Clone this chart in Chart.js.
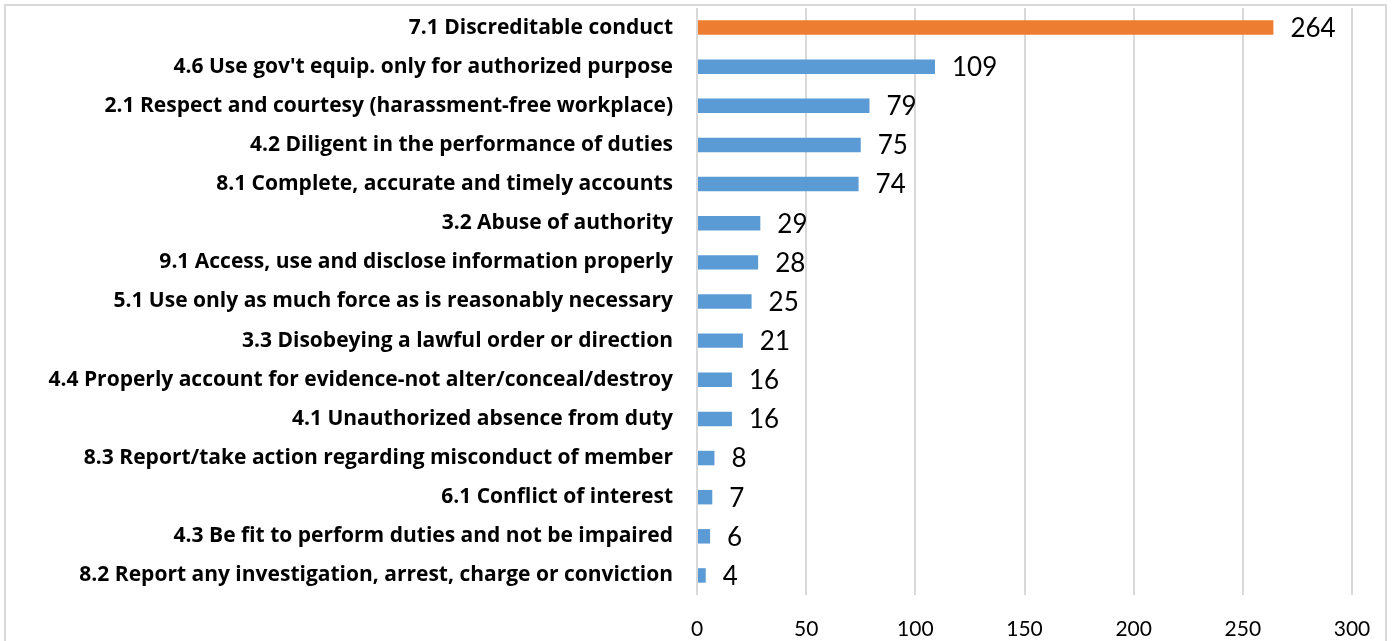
<!DOCTYPE html>
<html>
<head>
<meta charset="utf-8">
<script src="https://cdn.jsdelivr.net/npm/chart.js@4/dist/chart.umd.min.js"></script>
<style>
  html, body { margin: 0; padding: 0; background: #ffffff; overflow: hidden; }
  #wrap { position: absolute; left: 0; top: 0; width: 1393px; height: 641px; }
</style>
</head>
<body>
<div id="wrap"><canvas id="chart" width="1393" height="641"></canvas></div>
<script>
// Code of conduct sections and the number of allegations for each
const categories = [
  "7.1 Discreditable conduct",
  "4.6 Use gov't equip. only for authorized purpose",
  "2.1 Respect and courtesy (harassment-free workplace)",
  "4.2 Diligent in the performance of duties",
  "8.1 Complete, accurate and timely accounts",
  "3.2 Abuse of authority",
  "9.1 Access, use and disclose information properly",
  "5.1 Use only as much force as is reasonably necessary",
  "3.3 Disobeying a lawful order or direction",
  "4.4 Properly account for evidence-not alter/conceal/destroy",
  "4.1 Unauthorized absence from duty",
  "8.3 Report/take action regarding misconduct of member",
  "6.1 Conflict of interest",
  "4.3 Be fit to perform duties and not be impaired",
  "8.2 Report any investigation, arrest, charge or conviction"
];
const counts = [264, 109, 79, 75, 74, 29, 28, 25, 21, 16, 16, 8, 7, 6, 4];
const xTicks = [0, 50, 100, 150, 200, 250, 300];

const BLUE = '#5B9BD5';
const ORANGE = '#ED7D31';
const barColors = counts.map((v, i) => i === 0 ? ORANGE : BLUE);

// Light frame around the whole chart
const framePlugin = {
  id: 'frame',
  beforeDraw(chart) {
    const ctx = chart.ctx;
    ctx.save();
    ctx.strokeStyle = '#d9d9d9';
    ctx.lineWidth = 2;
    ctx.strokeRect(5, 5, 1381, 700);
    ctx.restore();
  }
};

// Value labels to the right of each bar
const valueLabels = {
  id: 'valueLabels',
  afterDatasetsDraw(chart) {
    const ctx = chart.ctx;
    const meta = chart.getDatasetMeta(0);
    ctx.save();
    ctx.font = '26px Lato';
    ctx.fillStyle = '#000000';
    ctx.textAlign = 'left';
    ctx.textBaseline = 'middle';
    meta.data.forEach((bar, i) => {
      ctx.fillText(String(counts[i]), bar.x + 17, bar.y + 1);
    });
    ctx.restore();
  }
};

new Chart(document.getElementById('chart'), {
  type: 'bar',
  data: {
    labels: categories,
    datasets: [{
      data: counts,
      backgroundColor: barColors,
      borderWidth: 0,
      barPercentage: 0.37,
      categoryPercentage: 1.0
    }]
  },
  options: {
    indexAxis: 'y',
    responsive: false,
    animation: false,
    layout: { padding: { top: 8, right: 41, bottom: 0, left: 0 } },
    plugins: {
      legend: { display: false },
      tooltip: { enabled: false }
    },
    scales: {
      x: {
        min: 0,
        max: 300,
        afterBuildTicks(scale) {
          scale.ticks = xTicks.map(v => ({ value: v }));
        },
        afterFit(scale) {
          scale.height = 46;
          scale.paddingLeft = 0;
          scale.paddingRight = 0;
        },
        grid: {
          color: '#d9d9d9',
          lineWidth: 2,
          drawTicks: false
        },
        border: { display: false },
        ticks: {
          color: '#000000',
          padding: 22,
          font: { family: 'Lato', size: 21 }
        }
      },
      y: {
        afterFit(scale) {
          scale.width = 697;
          scale.paddingTop = 0;
          scale.paddingBottom = 0;
        },
        grid: { display: false, drawTicks: false },
        border: { display: false },
        ticks: {
          color: '#000000',
          padding: 24,
          autoSkip: false,
          font: { family: 'Open Sans', size: 21, weight: 'bold' }
        }
      }
    }
  },
  plugins: [framePlugin, valueLabels]
});
</script>
</body>
</html>
